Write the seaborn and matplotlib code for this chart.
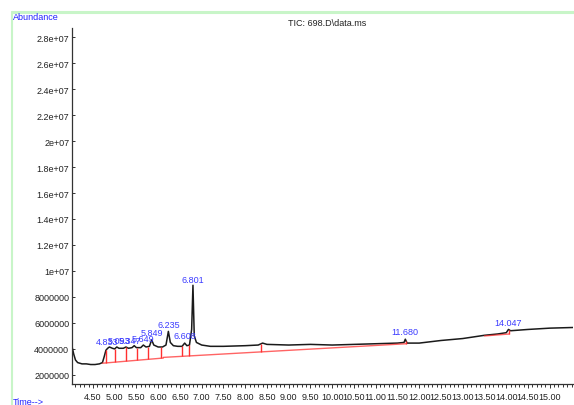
#!/usr/bin/env python3
# TIC chromatogram, 698.D\data.ms

import numpy as np
import pandas as pd
import seaborn as sns
import matplotlib.pyplot as plt
from matplotlib.lines import Line2D
from matplotlib.ticker import FixedLocator, MultipleLocator, FuncFormatter

# Data =========================================================================

time_min = [
    4.02, 4.06, 4.10, 4.15, 4.25, 4.35, 4.45, 4.55, 4.65, 4.72, 4.76, 4.80,
    4.84, 4.88, 4.95, 5.00, 5.05, 5.10, 5.20, 5.26, 5.32, 5.40, 5.45, 5.50,
    5.60, 5.66, 5.72, 5.80, 5.85, 5.90, 6.00, 6.10, 6.18, 6.235, 6.28, 6.35,
    6.45, 6.55, 6.61, 6.66, 6.72, 6.77, 6.80, 6.83, 6.88, 7.00, 7.20, 7.50,
    8.00, 8.30, 8.40, 8.50, 9.00, 9.50, 10.00, 10.50, 11.00, 11.50, 11.65,
    11.68, 11.72, 12.00, 12.50, 13.00, 13.50, 13.80, 14.00, 14.05, 14.10,
    14.50, 15.00, 15.53,
]
abundance = [
    4.20e6, 3.60e6, 3.15e6, 2.95e6, 2.85e6, 2.85e6, 2.80e6, 2.80e6, 2.85e6,
    2.95e6, 3.40e6, 3.90e6, 4.05e6, 4.15e6, 4.05e6, 4.00e6, 4.15e6, 4.05e6,
    4.05e6, 4.15e6, 4.05e6, 4.10e6, 4.25e6, 4.10e6, 4.10e6, 4.30e6, 4.15e6,
    4.20e6, 4.70e6, 4.30e6, 4.15e6, 4.15e6, 4.30e6, 5.35e6, 4.50e6, 4.25e6,
    4.20e6, 4.20e6, 4.45e6, 4.25e6, 4.30e6, 5.50e6, 8.90e6, 5.00e6, 4.50e6,
    4.30e6, 4.20e6, 4.20e6, 4.25e6, 4.30e6, 4.45e6, 4.35e6, 4.30e6, 4.35e6,
    4.30e6, 4.35e6, 4.40e6, 4.45e6, 4.50e6, 4.75e6, 4.45e6, 4.45e6, 4.65e6,
    4.80e6, 5.05e6, 5.15e6, 5.25e6, 5.50e6, 5.40e6, 5.50e6, 5.60e6, 5.65e6,
]

# integration baselines (start, end) in minutes and abundance
base_t = [(4.72, 6.12), (6.12, 11.70), (13.50, 14.07)]
base_y = [(2.90e6, 3.30e6), (3.35e6, 4.40e6), (5.00e6, 5.15e6)]
drop_t = [4.80, 5.00, 5.26, 5.51, 5.76, 6.07, 6.55, 6.70, 8.36, 11.70, 14.07]

peak_t = [4.833, 5.093, 5.347, 5.649, 5.849, 6.235, 6.608, 6.801, 11.680, 14.047]
peak_lbl = ['4.833', '5.093', '5.347', '5.649', '5.849', '6.235', '6.608',
            '6.801', '11.680', '14.047']

y_ticks = [2e6, 4e6, 6e6, 8e6, 1e7, 1.2e7, 1.4e7, 1.6e7, 1.8e7, 2e7, 2.2e7,
           2.4e7, 2.6e7, 2.8e7]


# Functions ====================================================================

def ylab(v, pos):
    if v < 1e7:
        return '%d' % v
    s = '%g' % (v / 1e7)
    return s + 'e+07'


def main():
    sns.set_theme(style='white')
    plt.rcParams['font.family'] = ['Liberation Sans', 'DejaVu Sans']

    fig = plt.figure(figsize=(5.74, 4.06), dpi=100)
    ax = fig.add_axes([0.1254, 0.052, 0.8726, 0.8766])

    df = pd.DataFrame({'t': time_min, 'a': abundance})
    sns.lineplot(data=df, x='t', y='a', ax=ax, color='#1a1a1a', lw=1.1,
                 sort=False, estimator=None)

    red = '#ff3030'
    for (t0, t1), (y0, y1) in zip(base_t, base_y):
        ax.plot([t0, t1], [y0, y1], color=red, lw=1.0, alpha=0.75)
    for t in drop_t:
        lo = None
        for (t0, t1), (y0, y1) in zip(base_t, base_y):
            if t0 - 1e-9 <= t <= t1 + 1e-9:
                lo = np.interp(t, [t0, t1], [y0, y1])
        hi = np.interp(t, time_min, abundance)
        ax.vlines(t, lo, hi, color=red, lw=1.0)

    for t, s in zip(peak_t, peak_lbl):
        ax.annotate(s, (t, np.interp(t, time_min, abundance)),
                    xytext=(0, 2), textcoords='offset points',
                    ha='center', va='bottom', fontsize=6.5, color='#3b3bff')

    ax.set_xlim(4.02, 15.53)
    ax.set_ylim(1.31e6, 2.87e7)
    ax.set_xlabel('')
    ax.set_ylabel('')
    ax.xaxis.set_major_locator(FixedLocator(np.arange(4.5, 15.01, 0.5)))
    ax.xaxis.set_minor_locator(MultipleLocator(0.1))
    ax.xaxis.set_major_formatter(FuncFormatter(lambda v, p: '%.2f' % v))
    ax.yaxis.set_major_locator(FixedLocator(y_ticks))
    ax.yaxis.set_major_formatter(FuncFormatter(ylab))
    ax.tick_params(axis='x', which='both', direction='out', bottom=True,
                   length=3, width=0.7, color='#333333', labelsize=6.5,
                   pad=3, labelcolor='#222222')
    ax.tick_params(axis='x', which='minor', length=2)
    ax.tick_params(axis='y', direction='in', left=True, length=2, width=0.7,
                   color='#333333', labelsize=6.5, pad=2,
                   labelcolor='#222222')
    for side in ('top', 'right'):
        ax.spines[side].set_visible(False)
    for side in ('left', 'bottom'):
        ax.spines[side].set_color('#333333')
        ax.spines[side].set_linewidth(0.9)

    fig.text(0.502, 0.941, 'TIC: 698.D\\data.ms', fontsize=6.5,
             color='#222222', ha='left', va='center')
    fig.text(0.023, 0.956, 'Abundance', fontsize=6.5, color='#2020ff',
             ha='left', va='center')
    fig.text(0.023, 0.008, 'Time-->', fontsize=6.5, color='#2020ff',
             ha='left', va='center')

    green = '#c8f5c8'
    fig.add_artist(Line2D([0.021, 1.0], [0.968, 0.968], color=green, lw=2.2,
                          transform=fig.transFigure))
    fig.add_artist(Line2D([0.021, 0.021], [0.0, 0.968], color=green, lw=1.5,
                          transform=fig.transFigure))

    fig.savefig('out.png', dpi=100)


# Execute ======================================================================

if __name__ == '__main__':
    main()
